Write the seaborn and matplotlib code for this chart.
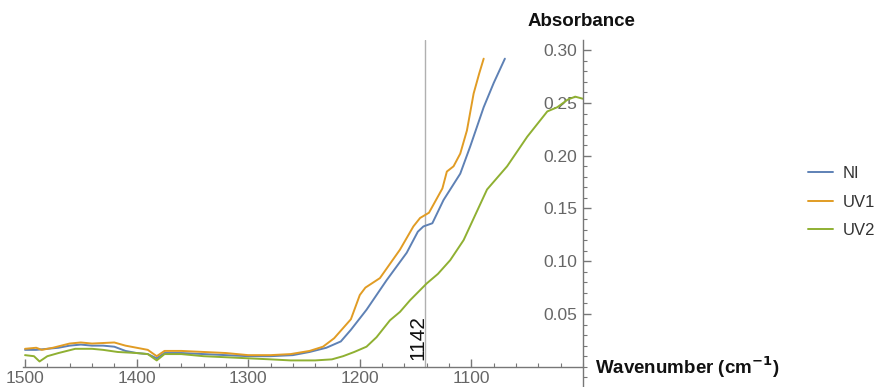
import matplotlib
matplotlib.use("Agg")
import matplotlib.pyplot as plt
from matplotlib.ticker import MultipleLocator, FixedLocator
import numpy as np
import pandas as pd
import seaborn as sns

sns.set_style("white")
plt.rcParams["font.family"] = ["Liberation Sans", "DejaVu Sans"]

# IR spectra, absorbance vs wavenumber (cm^-1)
ni_wn = [1500, 1490, 1480, 1470, 1460, 1450, 1440, 1430, 1420, 1410, 1400, 1390,
         1382, 1375, 1360, 1340, 1320, 1300, 1280, 1260, 1245, 1230, 1217, 1208,
         1194, 1176, 1158, 1148, 1143, 1135, 1125, 1110, 1101, 1089, 1080, 1070]
ni_abs = [0.016, 0.016, 0.017, 0.018, 0.020, 0.021, 0.020, 0.020, 0.019, 0.015, 0.013, 0.012,
          0.008, 0.013, 0.013, 0.012, 0.011, 0.010, 0.010, 0.011, 0.014, 0.018, 0.024, 0.035,
          0.054, 0.082, 0.108, 0.128, 0.133, 0.136, 0.158, 0.183, 0.209, 0.246, 0.269, 0.292]

uv1_wn = [1500, 1490, 1485, 1475, 1460, 1450, 1440, 1420, 1410, 1400, 1390, 1382,
          1375, 1360, 1340, 1320, 1300, 1280, 1262, 1245, 1233, 1223, 1208, 1200,
          1195, 1182, 1164, 1152, 1146, 1138, 1126, 1122, 1116, 1110, 1104, 1098,
          1093, 1089]
uv1_abs = [0.017, 0.018, 0.016, 0.018, 0.022, 0.023, 0.022, 0.023, 0.020, 0.018, 0.016, 0.010,
           0.015, 0.015, 0.014, 0.013, 0.011, 0.011, 0.012, 0.015, 0.019, 0.027, 0.045, 0.068,
           0.075, 0.084, 0.111, 0.133, 0.141, 0.146, 0.169, 0.185, 0.190, 0.202, 0.224, 0.259,
           0.278, 0.292]

uv2_wn = [1500, 1492, 1487, 1480, 1470, 1455, 1440, 1430, 1417, 1400, 1390, 1382,
          1375, 1360, 1340, 1320, 1300, 1280, 1262, 1240, 1225, 1215, 1205, 1194,
          1185, 1173, 1164, 1155, 1140, 1130, 1119, 1107, 1086, 1068, 1050, 1038,
          1032, 1023, 1014, 1007, 1000]
uv2_abs = [0.011, 0.010, 0.005, 0.010, 0.013, 0.017, 0.017, 0.016, 0.014, 0.013, 0.012, 0.006,
           0.012, 0.012, 0.010, 0.009, 0.008, 0.007, 0.006, 0.006, 0.007, 0.010, 0.014, 0.019,
           0.028, 0.044, 0.052, 0.063, 0.079, 0.088, 0.101, 0.120, 0.168, 0.190, 0.218, 0.234,
           0.242, 0.246, 0.253, 0.256, 0.254]

series_names = ["NI", "UV1", "UV2"]
colors = {"NI": "#5E81B5", "UV1": "#E19C24", "UV2": "#8FB032"}
marker_wn = 1142

frames = []
for name, wn, ab in zip(series_names, [ni_wn, uv1_wn, uv2_wn], [ni_abs, uv1_abs, uv2_abs]):
    frames.append(pd.DataFrame({"wn": wn, "abs": ab, "sample": name}))
df = pd.concat(frames, ignore_index=True)

W, H = 881, 387
fig = plt.figure(figsize=(W / 100, H / 100), dpi=100)
x_left_px, x_right_px = 22.8, 583.0
y_top_px = 40
ax = fig.add_axes([x_left_px / W, 0, (x_right_px - x_left_px) / W, (H - y_top_px) / H])

sns.lineplot(data=df, x="wn", y="abs", hue="sample", palette=colors, sort=False,
             estimator=None, units="sample", lw=1.4, ax=ax, legend=False)

ax.set_xlim(1502, 1000)
ax.set_ylim(-0.0192, 0.3097)

# marker line at 1142
ax.plot([marker_wn, marker_wn], [0, 0.3097], color="#b0b0b0", lw=1.0, zorder=1)
ax.text(marker_wn + 6, 0.028, str(marker_wn), rotation=90, ha="center", va="center",
        fontsize=15, color="#111111")

# axes crossing at (1000, 0)
for s in ["top", "right"]:
    ax.spines[s].set_visible(False)
ax.spines["left"].set_position(("data", 1000))
ax.spines["bottom"].set_position(("data", 0))
for s in ["left", "bottom"]:
    ax.spines[s].set_color("#777777")
    ax.spines[s].set_linewidth(1.0)

ax.xaxis.set_major_locator(FixedLocator([1500, 1400, 1300, 1200, 1100]))
ax.xaxis.set_minor_locator(MultipleLocator(20))
ax.yaxis.set_major_locator(FixedLocator([0.05, 0.10, 0.15, 0.20, 0.25, 0.30]))
ax.yaxis.set_minor_locator(MultipleLocator(0.01))
ax.set_yticklabels(["0.05", "0.10", "0.15", "0.20", "0.25", "0.30"])
ax.tick_params(which="both", direction="in", color="#777777", labelcolor="#666666",
               labelsize=12.5, bottom=True, left=True, top=False, right=False)
ax.tick_params(which="major", length=6, width=1.0)
ax.tick_params(which="minor", length=3, width=0.8)
ax.tick_params(axis="x", pad=3)
ax.tick_params(axis="y", pad=4)
ax.set_xlabel("")
ax.set_ylabel("")
ax.patch.set_alpha(0)

fig.text(581 / W, 1 - 22 / H, "Absorbance", ha="center", va="center",
         fontsize=13.5, fontweight="bold", color="#111111")
fig.text(595 / W, 1 - 367 / H, "Wavenumber (cm$^{\\mathbf{-1}}$)", ha="left", va="center",
         fontsize=13.5, fontweight="bold", color="#111111")

handles = [plt.Line2D([], [], color=colors[n], lw=1.4) for n in series_names]
fig.legend(handles, series_names, loc="center left", bbox_to_anchor=(793 / W, 1 - 202 / H),
           frameon=False, fontsize=12, handlelength=1.5, handletextpad=0.6,
           labelspacing=0.8, labelcolor="#333333")

fig.savefig("out.png", dpi=100)
